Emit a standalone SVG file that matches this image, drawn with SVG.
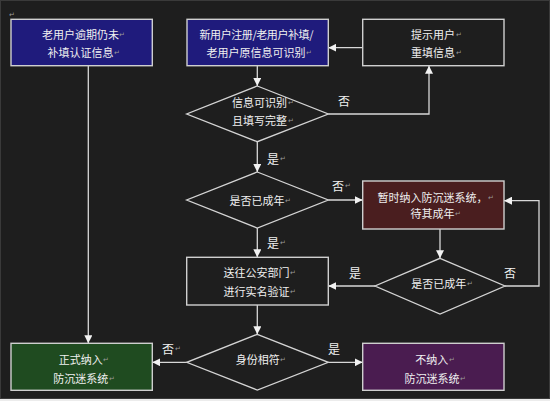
<svg xmlns="http://www.w3.org/2000/svg" width="550" height="401" viewBox="0 0 550 401">
<defs>
<marker id="ah" viewBox="0 0 10 10" refX="10" refY="5" markerWidth="8" markerHeight="8" markerUnits="userSpaceOnUse" orient="auto">
<path d="M0,0 L10,5 L0,10 Z" fill="#f2f2f2"/>
</marker>
<style>
text{font-family:"Noto Sans CJK SC","Noto Sans",sans-serif;fill:#f0f0f0;dominant-baseline:central}
.t{font-size:11px;text-anchor:middle}
.l{font-size:12px;text-anchor:middle}
.pm{font-size:7px;fill:#9a9a9a;text-anchor:start;font-family:"DejaVu Sans",sans-serif}
.box{stroke:#cfcfcf;stroke-width:1.4}
.dia{fill:none;stroke:#d4d4d4;stroke-width:1.3}
.c{fill:none;stroke:#d8d8d8;stroke-width:1.3;marker-end:url(#ah)}
.cn{fill:none;stroke:#d8d8d8;stroke-width:1.3}
</style>
</defs>
<rect x="0" y="0" width="550" height="401" fill="#1e1e1e"/>
<rect x="0" y="399" width="550" height="2" fill="#ececec"/>
<rect x="0.5" y="0.5" width="549" height="398" fill="none" stroke="#3a3a3a" stroke-width="1"/>
<text class="pm" x="9" y="15">↵</text>

<g id="connectors">
<path class="c" d="M88.3,65.7 V343.3"/>
<path class="c" d="M257.3,65.7 V86"/>
<path class="c" d="M257.3,141.7 V172"/>
<path class="c" d="M257.3,228 V257.3"/>
<path class="c" d="M257.3,305 V334.3"/>
<path class="c" d="M328.3,114 H429 V65.7"/>
<path class="c" d="M362.7,47.7 H328.3"/>
<path class="c" d="M328.3,200 H362.7"/>
<path class="c" d="M440,229 V258.3"/>
<path class="c" d="M375,286 H328.3"/>
<path class="c" d="M505,286 H539 V200.7 H504"/>
<path class="c" d="M186.7,362.3 H152.3"/>
<path class="c" d="M328.3,362.3 H362.7"/>
<text class="l" x="344" y="100">否</text>
<text class="l" x="273" y="158">是</text><text class="pm" x="280" y="159">↵</text>
<text class="l" x="338" y="185">否</text><text class="pm" x="345" y="186">↵</text>
<text class="l" x="273" y="242">是</text><text class="pm" x="280" y="243">↵</text>
<text class="l" x="355" y="272">是</text>
<text class="l" x="510" y="272">否</text>
<text class="l" x="168" y="348">否</text><text class="pm" x="175" y="349">↵</text>
<text class="l" x="334" y="348">是</text>
</g>

<g id="n1">
<rect class="box" x="11" y="19.3" width="141.3" height="46.4" fill="#1f1b7c"/>
<text class="t" x="80.5" y="34">老用户逾期仍未</text><text class="pm" x="119" y="35">↵</text>
<text class="t" x="80.5" y="52">补填认证信息</text><text class="pm" x="114" y="53">↵</text>
</g>
<g id="n2">
<rect class="box" x="187" y="19.3" width="141.3" height="46.4" fill="#1f1b7c"/>
<text class="t" x="256.5" y="34" textLength="114" lengthAdjust="spacing">新用户注册/老用户补填/</text>
<text class="t" x="256" y="52">老用户原信息可识别</text><text class="pm" x="306" y="53">↵</text>
</g>
<g id="n3">
<rect class="box" x="362.7" y="19.3" width="141.3" height="46.4" fill="#1e1e1e"/>
<text class="t" x="433" y="34">提示用户</text><text class="pm" x="456" y="35">↵</text>
<text class="t" x="433" y="52">重填信息</text><text class="pm" x="456" y="53">↵</text>
</g>
<g id="d1">
<polygon class="dia" points="257.3,86 328.3,114 257.3,141.7 186.7,114"/>
<text class="t" x="259.5" y="101.7">信息可识别</text><text class="pm" x="288" y="102.7">↵</text>
<text class="t" x="259.5" y="120">且填写完整</text><text class="pm" x="288" y="121">↵</text>
</g>
<g id="d2">
<polygon class="dia" points="257.3,172 328.3,200 257.3,228 186.7,200"/>
<text class="t" x="257" y="200">是否已成年</text><text class="pm" x="285" y="201">↵</text>
</g>
<g id="n4">
<rect class="box" x="362.7" y="181" width="141.3" height="48" fill="#4a1e1f"/>
<text class="t" x="432.5" y="196.7">暂时纳入防沉迷系统，</text><text class="pm" x="488" y="197.7">↵</text>
<text class="t" x="432.5" y="213.3">待其成年</text><text class="pm" x="455" y="214.3">↵</text>
</g>
<g id="d4">
<polygon class="dia" points="440,258.3 505,286 440,314 375,286"/>
<text class="t" x="438.7" y="283.3">是否已成年</text><text class="pm" x="467" y="284.3">↵</text>
</g>
<g id="n5">
<rect class="box" x="186.7" y="257.3" width="141.6" height="47.7" fill="#1e1e1e"/>
<text class="t" x="256.5" y="272.3">送往公安部门</text><text class="pm" x="290" y="273.3">↵</text>
<text class="t" x="256.5" y="291">进行实名验证</text><text class="pm" x="290" y="292">↵</text>
</g>
<g id="d3">
<polygon class="dia" points="257.3,334.3 328.3,362.3 257.3,390 186.7,362.3"/>
<text class="t" x="257.7" y="359">身份相符</text><text class="pm" x="280" y="360">↵</text>
</g>
<g id="n6">
<rect class="box" x="11" y="343.3" width="141.3" height="47" fill="#1f4b20"/>
<text class="t" x="80.8" y="359">正式纳入</text><text class="pm" x="103" y="360">↵</text>
<text class="t" x="80.8" y="377.7">防沉迷系统</text><text class="pm" x="109" y="378.7">↵</text>
</g>
<g id="n7">
<rect class="box" x="362.7" y="343.3" width="141.3" height="47" fill="#4a1c50"/>
<text class="t" x="431.8" y="359">不纳入</text><text class="pm" x="449" y="360">↵</text>
<text class="t" x="432" y="377.7">防沉迷系统</text><text class="pm" x="460" y="378.7">↵</text>
</g>
</svg>
